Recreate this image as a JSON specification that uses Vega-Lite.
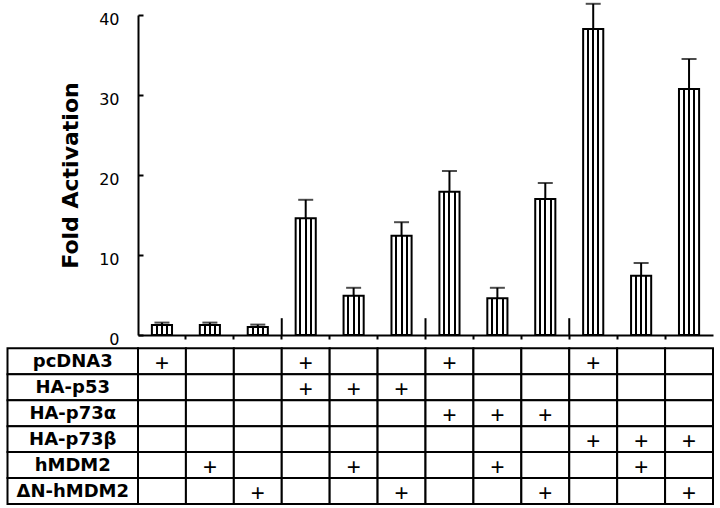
{
  "$schema": "https://vega.github.io/schema/vega-lite/v6.json",
  "width": 575,
  "height": 320,
  "autosize": {"type": "none"},
  "padding": {"left": 138, "top": 15, "right": 7, "bottom": 173},
  "config": {"view": {"stroke": null}, "font": "DejaVu Sans"},
  "datasets": {
    "lanes": [
      {"lane": "1", "value": 1.25, "err": 1.55, "pcDNA3": "+", "HA-p53": "", "HA-p73α": "", "HA-p73β": "", "hMDM2": "", "ΔN-hMDM2": ""},
      {"lane": "2", "value": 1.25, "err": 1.55, "pcDNA3": "", "HA-p53": "", "HA-p73α": "", "HA-p73β": "", "hMDM2": "+", "ΔN-hMDM2": ""},
      {"lane": "3", "value": 1.0, "err": 1.3, "pcDNA3": "", "HA-p53": "", "HA-p73α": "", "HA-p73β": "", "hMDM2": "", "ΔN-hMDM2": "+"},
      {"lane": "4", "value": 14.6, "err": 16.9, "pcDNA3": "+", "HA-p53": "+", "HA-p73α": "", "HA-p73β": "", "hMDM2": "", "ΔN-hMDM2": ""},
      {"lane": "5", "value": 4.9, "err": 5.9, "pcDNA3": "", "HA-p53": "+", "HA-p73α": "", "HA-p73β": "", "hMDM2": "+", "ΔN-hMDM2": ""},
      {"lane": "6", "value": 12.4, "err": 14.1, "pcDNA3": "", "HA-p53": "+", "HA-p73α": "", "HA-p73β": "", "hMDM2": "", "ΔN-hMDM2": "+"},
      {"lane": "7", "value": 17.9, "err": 20.5, "pcDNA3": "+", "HA-p53": "", "HA-p73α": "+", "HA-p73β": "", "hMDM2": "", "ΔN-hMDM2": ""},
      {"lane": "8", "value": 4.6, "err": 5.9, "pcDNA3": "", "HA-p53": "", "HA-p73α": "+", "HA-p73β": "", "hMDM2": "+", "ΔN-hMDM2": ""},
      {"lane": "9", "value": 17.0, "err": 19.0, "pcDNA3": "", "HA-p53": "", "HA-p73α": "+", "HA-p73β": "", "hMDM2": "", "ΔN-hMDM2": "+"},
      {"lane": "10", "value": 38.25, "err": 41.4, "pcDNA3": "+", "HA-p53": "", "HA-p73α": "", "HA-p73β": "+", "hMDM2": "", "ΔN-hMDM2": ""},
      {"lane": "11", "value": 7.4, "err": 9.0, "pcDNA3": "", "HA-p53": "", "HA-p73α": "", "HA-p73β": "+", "hMDM2": "+", "ΔN-hMDM2": ""},
      {"lane": "12", "value": 30.75, "err": 34.5, "pcDNA3": "", "HA-p53": "", "HA-p73α": "", "HA-p73β": "+", "hMDM2": "", "ΔN-hMDM2": "+"}
    ]
  },
  "layer": [
    {
      "data": {"name": "lanes"},
      "encoding": {
        "x": {
          "field": "lane", "type": "nominal",
          "scale": {"domain": ["1","2","3","4","5","6","7","8","9","10","11","12"], "paddingInner": 0, "paddingOuter": 0},
          "axis": {
            "values": ["1","2","3","4","5","6","7","8","9","10","11"],
            "bandPosition": 1, "tickExtra": false,
            "tickSize": 4, "tickWidth": 2, "tickColor": "black",
            "domainColor": "black", "domainWidth": 2,
            "labels": false, "title": null, "grid": false
          }
        }
      },
      "layer": [
        {
          "mark": {
            "type": "bar", "width": {"band": 0.42}, "stroke": "black", "strokeWidth": 2,
            "fill": {
              "gradient": "linear", "x1": 0, "y1": 0, "x2": 1, "y2": 0,
              "stops": [
                {"offset": 0, "color": "white"}, {"offset": 0.19, "color": "white"},
                {"offset": 0.19, "color": "black"}, {"offset": 0.29, "color": "black"},
                {"offset": 0.29, "color": "white"}, {"offset": 0.45, "color": "white"},
                {"offset": 0.45, "color": "black"}, {"offset": 0.55, "color": "black"},
                {"offset": 0.55, "color": "white"}, {"offset": 0.71, "color": "white"},
                {"offset": 0.71, "color": "black"}, {"offset": 0.81, "color": "black"},
                {"offset": 0.81, "color": "white"}, {"offset": 1, "color": "white"}
              ]
            }
          },
          "encoding": {
            "y": {
              "field": "value", "type": "quantitative",
              "scale": {"domain": [0, 40], "nice": false},
              "axis": {
                "values": [0, 5, 10, 15, 20, 25, 30, 35, 40],
                "labelExpr": "datum.value % 10 === 0 ? datum.label : ''",
                "tickSize": -5, "tickWidth": 2, "tickColor": "black",
                "domainColor": "black", "domainWidth": 2,
                "labelFont": "DejaVu Sans", "labelFontSize": 16, "labelColor": "black",
                "labelPadding": 24, "labelOffset": 4, "grid": false,
                "title": "Fold Activation", "titleFont": "DejaVu Sans", "titleFontSize": 22,
                "titleFontWeight": "bold", "titleColor": "black", "titlePadding": 16
              }
            }
          }
        },
        {
          "mark": {"type": "rule", "stroke": "black", "strokeWidth": 2},
          "encoding": {
            "y": {"field": "value", "type": "quantitative"},
            "y2": {"field": "err"}
          }
        },
        {
          "mark": {"type": "tick", "color": "black", "size": 15, "thickness": 2, "orient": "horizontal"},
          "encoding": {
            "y": {"field": "err", "type": "quantitative"}
          }
        },
        {
          "transform": [{"filter": "indexof(['3','6','9'], datum.lane) >= 0"}],
          "mark": {"type": "rule", "stroke": "black", "strokeWidth": 2},
          "encoding": {
            "x": {"field": "lane", "type": "nominal", "bandPosition": 1},
            "y": {"datum": 0, "type": "quantitative"},
            "y2": {"datum": 2.1}
          }
        }
      ]
    },
    {
      "data": {"name": "lanes"},
      "transform": [{"fold": ["pcDNA3", "HA-p53", "HA-p73α", "HA-p73β", "hMDM2", "ΔN-hMDM2"], "as": ["reagent", "plus"]}],
      "encoding": {
        "x": {
          "field": "lane", "type": "nominal",
          "scale": {"domain": ["1","2","3","4","5","6","7","8","9","10","11","12"], "paddingInner": 0, "paddingOuter": 0},
          "axis": null
        },
        "y": {
          "field": "reagent", "type": "nominal",
          "scale": {"domain": ["pcDNA3", "HA-p53", "HA-p73α", "HA-p73β", "hMDM2", "ΔN-hMDM2"], "range": [333.3, 489], "paddingInner": 0, "paddingOuter": 0},
          "axis": null
        }
      },
      "layer": [
        {"mark": {"type": "rect", "fill": "white", "stroke": "black", "strokeWidth": 2}},
        {
          "mark": {"type": "text", "font": "Liberation Sans", "fontSize": 24, "color": "black", "baseline": "middle", "align": "center", "dy": 3},
          "encoding": {"text": {"field": "plus"}}
        }
      ]
    },
    {
      "data": {"name": "lanes"},
      "transform": [
        {"fold": ["pcDNA3", "HA-p53", "HA-p73α", "HA-p73β", "hMDM2", "ΔN-hMDM2"], "as": ["reagent", "plus"]},
        {"filter": "datum.lane === '1'"}
      ],
      "encoding": {
        "x": {
          "datum": "names", "type": "nominal",
          "scale": {"domain": ["names"], "range": [-130.5, 0], "paddingInner": 0, "paddingOuter": 0},
          "axis": null
        },
        "y": {
          "field": "reagent", "type": "nominal",
          "scale": {"domain": ["pcDNA3", "HA-p53", "HA-p73α", "HA-p73β", "hMDM2", "ΔN-hMDM2"], "range": [333.3, 489], "paddingInner": 0, "paddingOuter": 0},
          "axis": null
        }
      },
      "layer": [
        {"mark": {"type": "rect", "fill": "white", "stroke": "black", "strokeWidth": 2}},
        {
          "mark": {"type": "text", "font": "DejaVu Sans", "fontWeight": "bold", "fontSize": 18, "color": "black", "baseline": "middle", "align": "center", "dy": 1},
          "encoding": {"text": {"field": "reagent"}}
        }
      ]
    }
  ],
  "resolve": {"scale": {"x": "independent", "y": "independent"}}
}
